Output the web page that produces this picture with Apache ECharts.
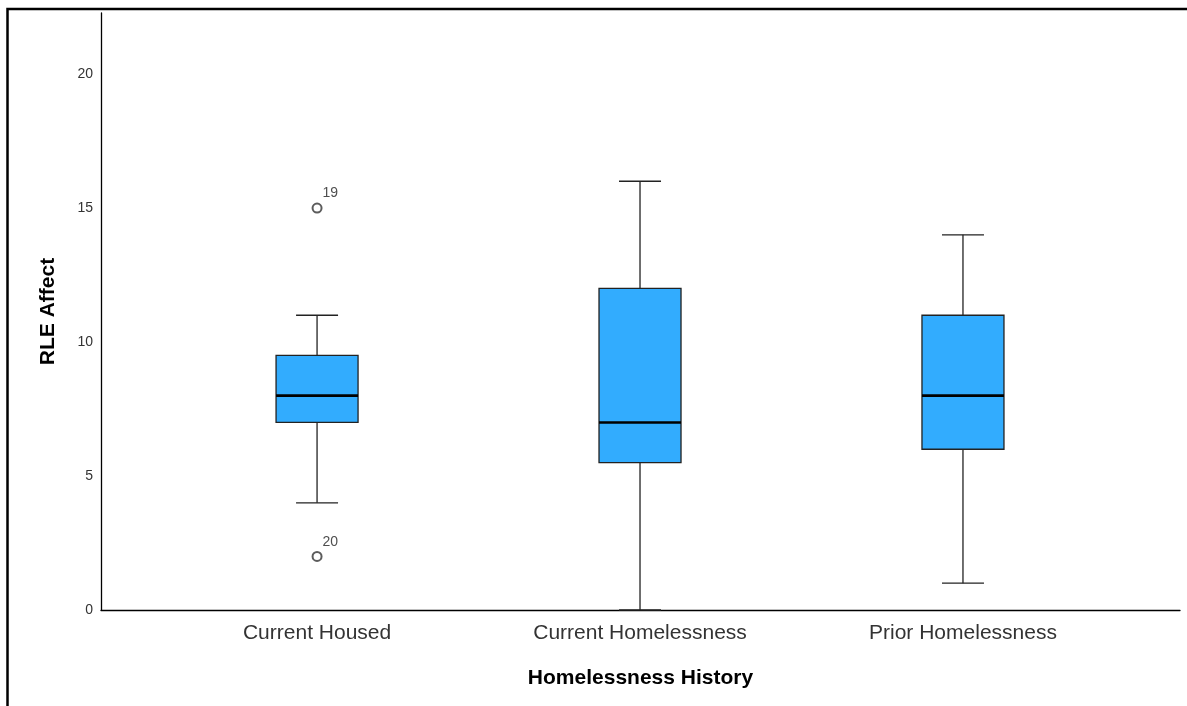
<!DOCTYPE html>
<html>
<head>
<meta charset="utf-8">
<script src="https://cdn.jsdelivr.net/npm/echarts@6/dist/echarts.min.js"></script>
<style>
  html, body { margin: 0; padding: 0; background: #fff; }
  #main { width: 1187px; height: 706px; }
</style>
</head>
<body>
<div id="main"></div>
<script>
// data
const categories = ['Current Housed', 'Current Homelessness', 'Prior Homelessness'];
const whiskerLow = [4, 0, 1];
const q1 = [7, 5.5, 6];
const median = [8, 7, 8];
const q3 = [9.5, 12, 11];
const whiskerHigh = [11, 16, 14];
const outlierCategory = [0, 0];
const outlierValue = [15, 2];
const outlierCase = ['19', '20'];
const yTicks = [0, 5, 10, 15, 20];

const boxData = categories.map((c, i) => [i, whiskerLow[i], q1[i], median[i], q3[i], whiskerHigh[i]]);
const outlierData = outlierValue.map((v, i) => [outlierCategory[i], v, outlierCase[i]]);

const BOX_W = 82;
const CAP_W = 42;

let chart = echarts.init(document.getElementById('main'));

let option = {
    animation: false,
    backgroundColor: '#fff',
    textStyle: { fontFamily: 'Liberation Sans, Arial, sans-serif' },
    graphic: [{
        type: 'rect',
        shape: { x: 7.5, y: 9, width: 1300, height: 900 },
        style: { fill: 'none', stroke: '#000', lineWidth: 2.5 },
        silent: true
    }],
    grid: { left: 101, right: 7, top: 13, bottom: 96 },
    xAxis: {
        type: 'value',
        min: -0.669,
        max: 2.672,
        splitLine: { show: false },
        axisTick: { show: false },
        axisLine: { show: true, onZero: false, lineStyle: { color: '#000', width: 1.3 } },
        axisLabel: {
            customValues: [0, 1, 2],
            formatter: v => categories[Math.round(v)] || '',
            color: '#333',
            fontSize: 21,
            margin: 13
        },
        name: 'Homelessness History',
        nameLocation: 'middle',
        nameGap: 58,
        nameTextStyle: { color: '#000', fontSize: 21, fontWeight: 'bold' }
    },
    yAxis: {
        type: 'value',
        min: 0,
        max: 22.28,
        splitLine: { show: false },
        axisTick: { show: false },
        axisLine: { show: true, onZero: false, lineStyle: { color: '#000', width: 1.3 } },
        axisLabel: {
            customValues: yTicks,
            color: '#333',
            fontSize: 14,
            margin: 8
        },
        name: 'RLE Affect',
        nameLocation: 'middle',
        nameGap: 42,
        nameTextStyle: { color: '#000', fontSize: 21, fontWeight: 'bold' }
    },
    series: [{
        type: 'custom',
        data: boxData,
        renderItem: function (params, api) {
            const x = api.value(0);
            const lo = api.coord([x, api.value(1)]);
            const b1 = api.coord([x, api.value(2)]);
            const md = api.coord([x, api.value(3)]);
            const b3 = api.coord([x, api.value(4)]);
            const hi = api.coord([x, api.value(5)]);
            const cx = lo[0];
            const lineStyle = { stroke: '#222', lineWidth: 1.3 };
            return {
                type: 'group',
                children: [
                    { type: 'line', shape: { x1: cx, y1: lo[1], x2: cx, y2: b1[1] }, style: lineStyle },
                    { type: 'line', shape: { x1: cx, y1: b3[1], x2: cx, y2: hi[1] }, style: lineStyle },
                    { type: 'line', shape: { x1: cx - CAP_W / 2, y1: lo[1], x2: cx + CAP_W / 2, y2: lo[1] }, style: lineStyle },
                    { type: 'line', shape: { x1: cx - CAP_W / 2, y1: hi[1], x2: cx + CAP_W / 2, y2: hi[1] }, style: lineStyle },
                    {
                        type: 'rect',
                        shape: { x: cx - BOX_W / 2, y: b3[1], width: BOX_W, height: b1[1] - b3[1] },
                        style: { fill: '#32acfe', stroke: '#222', lineWidth: 1.3 }
                    },
                    { type: 'line', shape: { x1: cx - BOX_W / 2, y1: md[1], x2: cx + BOX_W / 2, y2: md[1] }, style: { stroke: '#000', lineWidth: 2.6 } }
                ]
            };
        }
    }, {
        type: 'scatter',
        data: outlierData,
        symbol: 'emptyCircle',
        symbolSize: 9,
        itemStyle: { color: '#333', borderWidth: 1.3 },
        label: {
            show: true,
            position: [11, -16],
            formatter: p => p.data[2],
            color: '#222',
            fontSize: 14
        }
    }]
};
chart.setOption(option);
</script>
</body>
</html>
